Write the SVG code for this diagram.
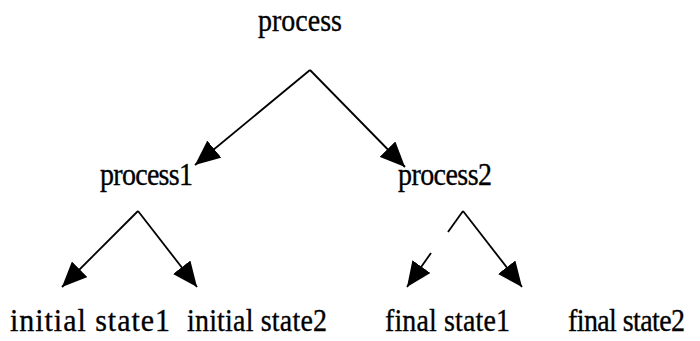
<svg xmlns="http://www.w3.org/2000/svg" width="700" height="341" viewBox="0 0 700 341">
  <style>
    .lbl { font-family: "Liberation Serif", "Times New Roman", serif; font-size: 28px; fill: #000; stroke: #000; stroke-width: 0.3; }
    .big { font-size: 30px; }
    .edge { stroke: #000; stroke-width: 1.8; fill: none; }
    .arr { marker-end: url(#head); }
  </style>
  <defs>
    <marker id="head" markerUnits="userSpaceOnUse" markerWidth="26" markerHeight="22" refX="25" refY="11" orient="auto">
      <path d="M0,0 L25,11 L0,22 Z" fill="#000"/>
    </marker>
  </defs>
  <rect width="700" height="341" fill="#fff"/>

  <g id="connectors">
    <line class="edge arr" x1="310" y1="70" x2="195" y2="165"/>
    <line class="edge arr" x1="310" y1="70" x2="405" y2="167"/>
    <line class="edge arr" x1="138" y1="211" x2="62" y2="287"/>
    <line class="edge arr" x1="138" y1="211" x2="197" y2="287"/>
    <line class="edge" x1="463" y1="211" x2="448" y2="232"/>
    <line class="edge arr" x1="431" y1="253" x2="407" y2="287"/>
    <line class="edge arr" x1="463" y1="211" x2="522" y2="287"/>
  </g>

  <!-- labels are set slightly tall: scaled vertically about their baselines -->
  <g id="process"><text class="lbl" transform="translate(258,31) scale(1,1.15)" textLength="84" lengthAdjust="spacing">process</text></g>
  <g id="process1"><text class="lbl" transform="translate(100,185) scale(1,1.15)" textLength="93" lengthAdjust="spacing">process1</text></g>
  <g id="process2"><text class="lbl" transform="translate(398,185) scale(1,1.15)" textLength="94" lengthAdjust="spacing">process2</text></g>
  <g id="initial-state1"><text class="lbl big" transform="translate(10,331) scale(1,1.07)" textLength="160" lengthAdjust="spacing">initial state1</text></g>
  <g id="initial-state2"><text class="lbl" transform="translate(187,331) scale(1,1.15)" textLength="140" lengthAdjust="spacing">initial state2</text></g>
  <g id="final-state1"><text class="lbl" transform="translate(385,331) scale(1,1.15)" textLength="125" lengthAdjust="spacing">final state1</text></g>
  <g id="final-state2"><text class="lbl" transform="translate(568,331) scale(1,1.15)" textLength="117" lengthAdjust="spacing">final state2</text></g>
</svg>
